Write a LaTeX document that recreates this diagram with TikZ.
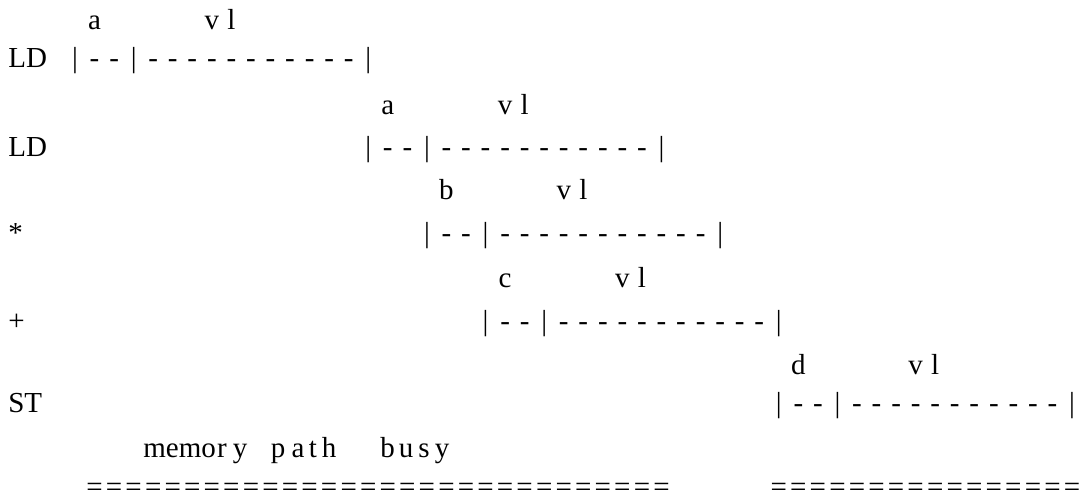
\documentclass[tikz,border=0pt]{standalone}
\usepackage{fontspec}
\setmainfont{Liberation Serif}
\def\barpattern{0/|,1/-,2/-,3/|,4/-,5/-,6/-,7/-,8/-,9/-,10/-,11/-,12/-,13/-,14/-,15/|}

\begin{document}
\begin{tikzpicture}[
  x=0.02cm, y=-0.02cm,
  glyph/.style={anchor=base, inner sep=0pt, font=\fontsize{16.5}{20}\selectfont},
  oplbl/.style={glyph, anchor=base west},
]
  \useasboundingbox (0,0) rectangle (1081,502);
  % LD, startup a
  \node[oplbl] (op1) at (8,68) {LD};
  \node[glyph] (lat1) at ({75+1*19.55},30) {a};
  \node[glyph] (v1) at ({75+7*19.55},30) {v};
  \node[glyph] (l1) at ({75+8*19.55},30) {l};
  \foreach \k/\g in \barpattern
    \node[glyph] (s1g\k) at ({75+\k*19.55},68) {\g};
  % LD, startup a
  \node[oplbl] (op2) at (8,157) {LD};
  \node[glyph] (lat2) at ({75+16*19.55},115) {a};
  \node[glyph] (v2) at ({75+22*19.55},115) {v};
  \node[glyph] (l2) at ({75+23*19.55},115) {l};
  \foreach \k/\g in \barpattern
    \node[glyph] (s2g\k) at ({75+(15+\k)*19.55},157) {\g};
  % multiply, startup b
  \node[oplbl] (op3) at (8,243) {*};
  \node[glyph] (lat3) at ({75+19*19.55},200) {b};
  \node[glyph] (v3) at ({75+25*19.55},200) {v};
  \node[glyph] (l3) at ({75+26*19.55},200) {l};
  \foreach \k/\g in \barpattern
    \node[glyph] (s3g\k) at ({75+(18+\k)*19.55},243) {\g};
  % add, startup c
  \node[oplbl] (op4) at (8,331) {+};
  \node[glyph] (lat4) at ({75+22*19.55},288) {c};
  \node[glyph] (v4) at ({75+28*19.55},288) {v};
  \node[glyph] (l4) at ({75+29*19.55},288) {l};
  \foreach \k/\g in \barpattern
    \node[glyph] (s4g\k) at ({75+(21+\k)*19.55},331) {\g};
  % ST, startup d
  \node[oplbl] (op5) at (8,413) {ST};
  \node[glyph] (lat5) at ({75+37*19.55},375) {d};
  \node[glyph] (v5) at ({75+43*19.55},375) {v};
  \node[glyph] (l5) at ({75+44*19.55},375) {l};
  \foreach \k/\g in \barpattern
    \node[glyph] (s5g\k) at ({75+(36+\k)*19.55},413) {\g};
  % memory path busy
  \node[glyph, anchor=base west] (mem) at (143,458) {memo};
  \foreach \c/\x [count=\i] in {r/222,y/240,p/278,a/298,t/313,h/329,b/387.5,u/406,s/424,y/442}
    \node[glyph] (mem\i) at (\x,458) {\c};
  \foreach \k in {1,...,30}
    \node[glyph] (busyA\k) at ({75+\k*19.55},497) {=};
  \foreach \k in {36,...,51}
    \node[glyph] (busyB\k) at ({75+\k*19.55},497) {=};
\end{tikzpicture}
\end{document}
